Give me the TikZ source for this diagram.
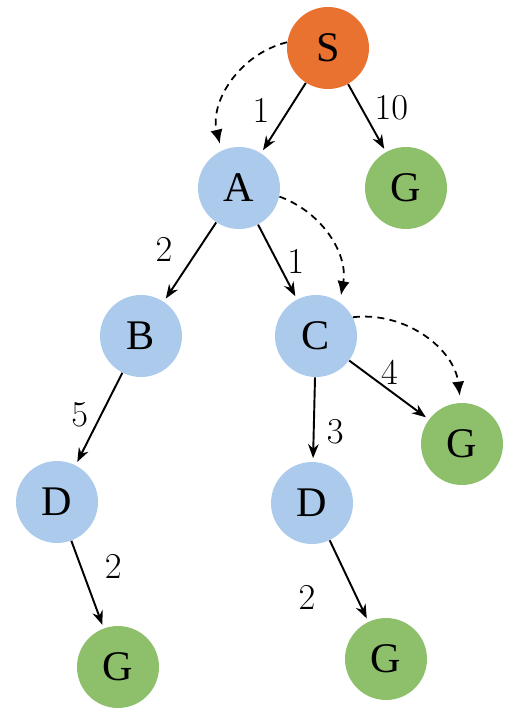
\documentclass[tikz,border=0pt]{standalone}
\usepackage{fontspec}
\newfontfamily\lettersfont{Liberation Serif}
\usetikzlibrary{arrows.meta}

\definecolor{startcol}{RGB}{233,114,48}
\definecolor{opencol}{RGB}{172,203,236}
\definecolor{goalcol}{RGB}{142,192,108}

\tikzstyle{weight} = [font=\fontsize{20}{22}\selectfont,inner sep=1pt]
\tikzstyle{nodedecorate}=[shape=circle,font=\lettersfont\fontsize{24}{26}\selectfont]
\tikzstyle{vertex}=[circle,minimum size=1.64cm,inner sep=0pt]
\tikzstyle{arrowdecorate}=[-{Stealth[length=8pt,width=6pt]},line width=1.1pt,shorten >=2pt]
\tikzstyle{trace edge}=[-{Latex[length=8pt,width=7pt]},line width=1pt,dash pattern=on 4pt off 3pt,shorten >=4pt]

\begin{document}
\begin{tikzpicture}[x=0.02cm,y=-0.02cm]
    \useasboundingbox (0,0) rectangle (506,713);

    \foreach \nodename/\letter/\x/\y/\color in {
      s/S/328/48/startcol,
      a/A/239/188/opencol,
      g1/G/406/188/goalcol,
      b/B/141/336/opencol,
      c/C/316/336/opencol,
      g2/G/462/444/goalcol,
      d1/D/57/502/opencol,
      d2/D/312/503/opencol,
      g3/G/118/667/goalcol,
      g4/G/386/659/goalcol}
    {
      \node[vertex, nodedecorate, fill=\color] (\nodename) at (\x,\y) {\letter};
    }

    %cost edges
    \path
    \foreach \startnode/\endnode/\anc/\dx/\dy/\where/\weight in {
      s/a/east/-9/0/0.4/1, s/g1/west/6/0/0.35/10, a/b/east/-13/0/0.35/2,
      a/c/west/4/0/0.5/1, b/d1/east/-6/0/0.45/5, c/d2/west/6/0/0.65/3,
      c/g2/south/-2/3/0.55/4, d1/g3/west/12/0/0.3/2, d2/g4/east/-22/0/0.7/2
    }
    {
      (\startnode) edge[arrowdecorate] node[weight,pos=\where,anchor=\anc,xshift=\dx pt,yshift=\dy pt] {$\weight$} (\endnode)
    };

    %search order
    \path
    \foreach \startnode/\endnode/\angle in {
      s.172/a.115/-45, a.-12/c.55/40, c.27/g2.92/45
    }
    {
      (\startnode) edge[trace edge,bend left=\angle] (\endnode)
    };
\end{tikzpicture}
\end{document}
